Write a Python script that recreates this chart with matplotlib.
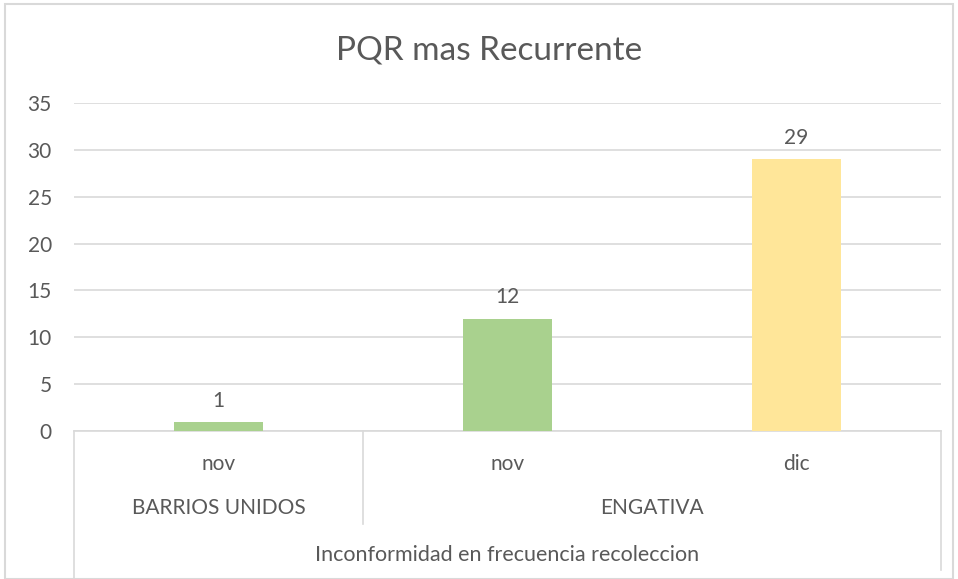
import matplotlib.pyplot as plt
from matplotlib.transforms import blended_transform_factory
from matplotlib.patches import Rectangle

# data
meses = ["nov", "nov", "dic"]
localidades = ["BARRIOS UNIDOS", "ENGATIVA"]
grupo_de = [0, 1, 1]
valores = [1, 12, 29]
colores = ["#a9d18e", "#a9d18e", "#ffe699"]
categoria = "Inconformidad en frecuencia recoleccion"
titulo = "PQR mas Recurrente"

W, H = 958, 579
plt.rcParams['font.family'] = ['Lato', 'DejaVu Sans']
txt = "#595959"
grid = "#d9d9d9"

fig = plt.figure(figsize=(W / 100, H / 100), dpi=100)
fig.patches.append(Rectangle((5 / W, 0), 948 / W, 1 - 4 / H, transform=fig.transFigure,
                             fill=False, edgecolor=grid, lw=1.5))

def fy(p):
    return 1 - p / H

ax = fig.add_axes([74 / W, fy(431), (941 - 74) / W, (431 - 103) / H])
x = list(range(len(valores)))
ax.bar(x, valores, width=0.31, color=colores, zorder=3)
for xi, v in zip(x, valores):
    ax.annotate(str(v), (xi, v), xytext=(0, 8), textcoords="offset points",
                ha="center", va="bottom", fontsize=15, color=txt)

ax.set_xlim(-0.5, len(valores) - 0.5)
ax.set_ylim(0, 35)
ax.set_yticks(range(0, 36, 5))
ax.tick_params(axis="y", length=0, labelsize=15, labelcolor=txt, pad=16)
ax.set_xticks([])
ax.yaxis.grid(True, color=grid, lw=1.2, zorder=0)
for s in ["top", "right", "left"]:
    ax.spines[s].set_visible(False)
ax.spines["bottom"].set_color(grid)
ax.spines["bottom"].set_linewidth(1.2)

fig.text(489 / W, fy(50), titulo, ha="center", va="center", fontsize=24, color=txt)

# multi-level category axis
tr = blended_transform_factory(ax.transData, fig.transFigure)
n = len(valores)
ax.plot([-0.5, -0.5], [fy(431), fy(579)], transform=tr, color=grid, lw=1.2, clip_on=False)
ax.plot([n - 0.5, n - 0.5], [fy(431), fy(570)], transform=tr, color=grid, lw=1.2, clip_on=False)
for i in range(1, n):
    if grupo_de[i] != grupo_de[i - 1]:
        ax.plot([i - 0.5, i - 0.5], [fy(431), fy(524)], transform=tr, color=grid, lw=1.2, clip_on=False)

for xi, m in zip(x, meses):
    ax.text(xi, fy(464), m, transform=tr, ha="center", va="center", fontsize=15, color=txt)
for g, nombre in enumerate(localidades):
    idx = [i for i in x if grupo_de[i] == g]
    ax.text((min(idx) + max(idx)) / 2, fy(508), nombre, transform=tr,
            ha="center", va="center", fontsize=15, color=txt)
ax.text((n - 1) / 2, fy(555), categoria, transform=tr, ha="center", va="center",
        fontsize=15.5, color=txt)

fig.savefig("out.png", dpi=100)
